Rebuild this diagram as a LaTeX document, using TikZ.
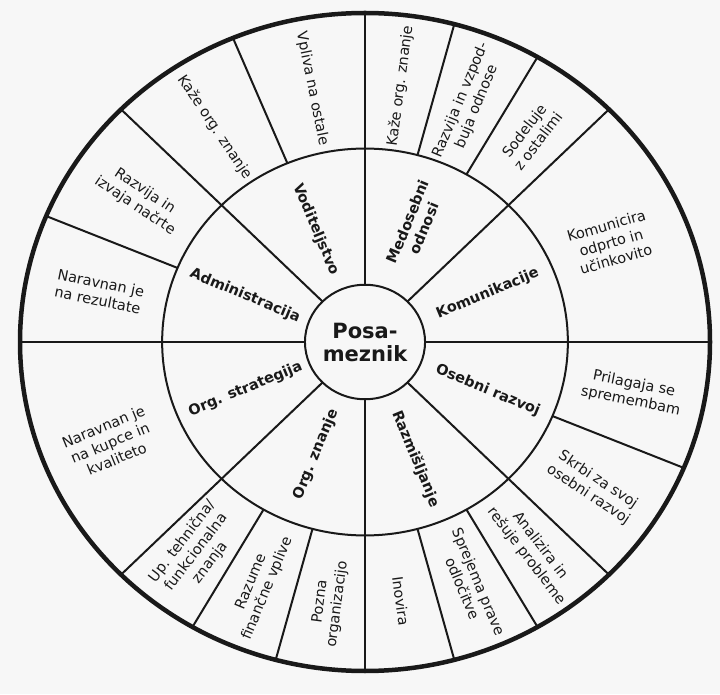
\documentclass[tikz,border=0pt]{standalone}
\usepackage{fontspec}
\setmainfont{DejaVu Sans}
\tikzset{
  outer rim/.style={line width=4.5pt, draw=black!90},
  ring line/.style={line width=2pt, draw=black!90},
  area text/.style={font=\fontsize{14.5}{17.5}\selectfont, text=black!90, align=center, inner sep=1pt},
  theme text/.style={area text, font=\bfseries\fontsize{14.5}{17.5}\selectfont},
  hub text/.style={area text, font=\bfseries\fontsize{21}{23}\selectfont}
}

\begin{document}
\begin{tikzpicture}
\fill[black!3] (0,0) rectangle (720pt,694pt);
\useasboundingbox (0,0) rectangle (720pt,694pt);
\begin{scope}[shift={(365pt,352pt)}, x=345pt, y=329pt]
\draw[ring line] (0,0) circle [radius=0.588];
\draw[ring line] (0,0) circle [radius=0.174];
\foreach \a in {0,45,...,315}
  \draw[ring line] (\a:0.174) -- (\a:1);
\foreach \a in {60,75,112.5,157.5,-22.5,-60,-75,-105,-120}
  \draw[ring line] (\a:0.588) -- (\a:1);
\draw[outer rim] (0,0) circle [radius=1];

\node[hub text] (hub) at (0,0) {Posa-\\meznik};

% inner ring
\node[theme text, rotate=-67.5] (lead) at (112.5:0.37) {Voditeljstvo};
\node[theme text, rotate=-22.5] (admin) at (158:0.375) {Administracija};
\node[theme text, rotate=67.5] (rel) at (67.5:0.385) {Medosebni\\odnosi};
\node[theme text, rotate=22.5] (comm) at (22.5:0.385) {Komunikacije};
\node[theme text, rotate=-22.5] (grow) at (-22.5:0.385) {Osebni razvoj};
\node[theme text, rotate=-67.5] (think) at (-67.5:0.385) {Razmišljanje};
\node[theme text, rotate=67.5] (know) at (-112.5:0.37) {Org. znanje};
\node[theme text, rotate=22.5] (strat) at (-157.5:0.375) {Org. strategija};

% outer ring
\node[area text, rotate=-78.75] (influ) at (101.25:0.785) {Vpliva na ostale};
\node[area text, rotate=-56.25] (showa) at (123.75:0.785) {Kaže org. znanje};
\node[area text, rotate=-33.75] (plans) at (146.25:0.785) {Razvija in\\izvaja načrte};
\node[area text, rotate=-11.25] (results) at (168.75:0.785) {Naravnan je\\na rezultate};
\node[area text, rotate=82.5] (showb) at (82.5:0.785) {Kaže org. znanje};
\node[area text, rotate=67.5] (bonds) at (67.5:0.785) {Razvija in vzpod-\\buja odnose};
\node[area text, rotate=52.5] (team) at (52.5:0.79) {Sodeluje\\z ostalimi};
\node[area text, rotate=16] (talk) at (23:0.775) {Komunicira\\odprto in\\učinkovito};
\node[area text, rotate=-11.25] (adapt) at (-11.25:0.79) {Prilagaja se\\spremembam};
\node[area text, rotate=-33.75] (care) at (-33.75:0.795) {Skrbi za svoj\\osebni razvoj};
\node[area text, rotate=-52.5] (solve) at (-52.5:0.8) {Analizira in\\rešuje probleme};
\node[area text, rotate=-67.5] (decide) at (-67.5:0.8) {Sprejema prave\\odločitve};
\node[area text, rotate=-82.5] (innov) at (-82.5:0.795) {Inovira};
\node[area text, rotate=82.5] (org) at (-97.5:0.8) {Pozna\\organizacijo};
\node[area text, rotate=67.5] (fin) at (-112.5:0.8) {Razume\\finančne vplive};
\node[area text, rotate=52.5] (tech) at (-127.5:0.805) {Up. tehnična/\\funkcionalna\\znanja};
\node[area text, rotate=22.5] (clients) at (-157.5:0.8) {Naravnan je\\na kupce in\\kvaliteto};
\end{scope}
\end{tikzpicture}
\end{document}
